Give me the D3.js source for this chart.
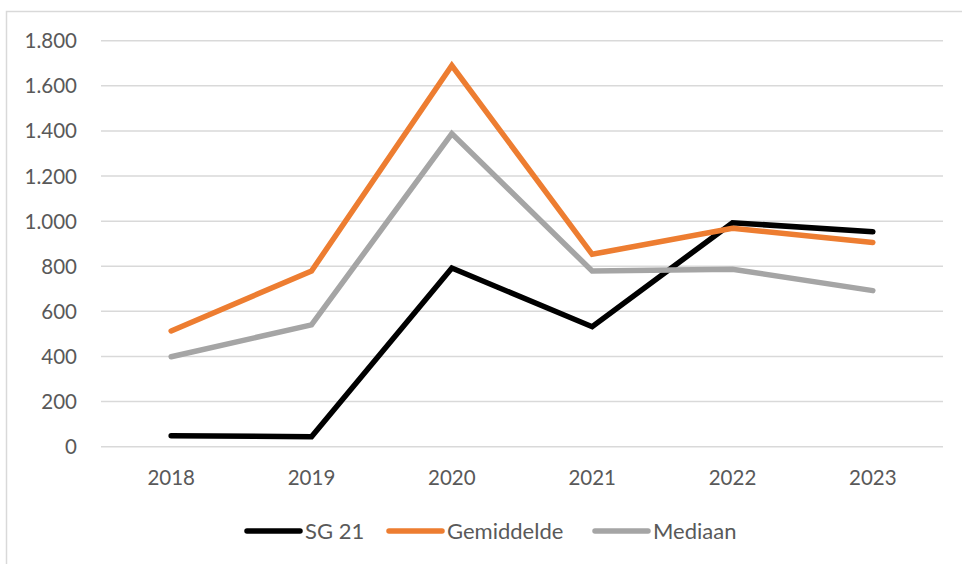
<!DOCTYPE html>
<html>
<head>
<meta charset="utf-8">
<script src="https://cdn.jsdelivr.net/npm/d3@7"></script>
<style>
  body { margin: 0; background: #fff; }
  svg { display: block; }
  text { font-family: Lato, "Open Sans", sans-serif; fill: #595959; }
</style>
</head>
<body>
<div id="chart"></div>
<script>
// data
var years = ['2018', '2019', '2020', '2021', '2022', '2023'];
var sg21 = [49, 44, 792, 532, 993, 953];
var gemiddelde = [513, 779, 1690, 853, 968, 905];
var mediaan = [399, 540, 1388, 779, 787, 692];
var yTicks = [0, 200, 400, 600, 800, 1000, 1200, 1400, 1600, 1800];

var series = [
  { name: 'SG 21', values: sg21, color: '#000000' },
  { name: 'Gemiddelde', values: gemiddelde, color: '#ED7D31' },
  { name: 'Mediaan', values: mediaan, color: '#A5A5A5' }
];

var width = 962, height = 564;
var svg = d3.select('#chart').append('svg')
  .attr('width', width)
  .attr('height', height);

// chart border (right and bottom fall outside the picture)
svg.append('rect')
  .attr('x', 6.5).attr('y', 11.5)
  .attr('width', 1000).attr('height', 600)
  .attr('fill', 'none')
  .attr('stroke', '#D9D9D9')
  .attr('stroke-width', 1.5);

var x = d3.scaleBand().domain(years).range([101, 943]);
var y = d3.scaleLinear().domain([0, 1800]).range([446.7, 40.7]);

// gridlines
svg.append('g').selectAll('line')
  .data(yTicks)
  .enter()
  .append('line')
  .attr('x1', 101).attr('x2', 943)
  .attr('y1', function (d) { return y(d); })
  .attr('y2', function (d) { return y(d); })
  .attr('stroke', '#D9D9D9')
  .attr('stroke-width', 1.5);

// y axis labels
var fmt = d3.formatLocale({ decimal: ',', thousands: '.', grouping: [3], currency: ['', ''] }).format(',');
svg.append('g').selectAll('text')
  .data(yTicks)
  .enter()
  .append('text')
  .attr('x', 77)
  .attr('y', function (d) { return y(d) + 7.5; })
  .attr('text-anchor', 'end')
  .style('font-size', '20.5px')
  .text(function (d) { return fmt(d); });

// x axis labels
svg.append('g').selectAll('text')
  .data(years)
  .enter()
  .append('text')
  .attr('x', function (d) { return x(d) + x.bandwidth() / 2; })
  .attr('y', 485)
  .attr('text-anchor', 'middle')
  .style('font-size', '20.5px')
  .text(function (d) { return d; });

// lines
var line = d3.line()
  .x(function (d, i) { return x(years[i]) + x.bandwidth() / 2; })
  .y(function (d) { return y(d); });

svg.append('g').selectAll('path')
  .data(series)
  .enter()
  .append('path')
  .attr('d', function (d) { return line(d.values); })
  .attr('fill', 'none')
  .attr('stroke', function (d) { return d.color; })
  .attr('stroke-width', 5.5)
  .attr('stroke-linejoin', 'miter')
  .attr('stroke-linecap', 'round');

// legend
var legendX = [247, 389, 595];
var lg = svg.append('g').selectAll('g')
  .data(series)
  .enter()
  .append('g')
  .attr('transform', function (d, i) { return 'translate(' + legendX[i] + ',531)'; });
lg.append('line')
  .attr('x1', 0).attr('x2', 53)
  .attr('y1', 0).attr('y2', 0)
  .attr('stroke', function (d) { return d.color; })
  .attr('stroke-width', 5.5)
  .attr('stroke-linecap', 'round');
lg.append('text')
  .attr('x', 58)
  .attr('y', 7.8)
  .style('font-size', '22px')
  .text(function (d) { return d.name; });
</script>
</body>
</html>
